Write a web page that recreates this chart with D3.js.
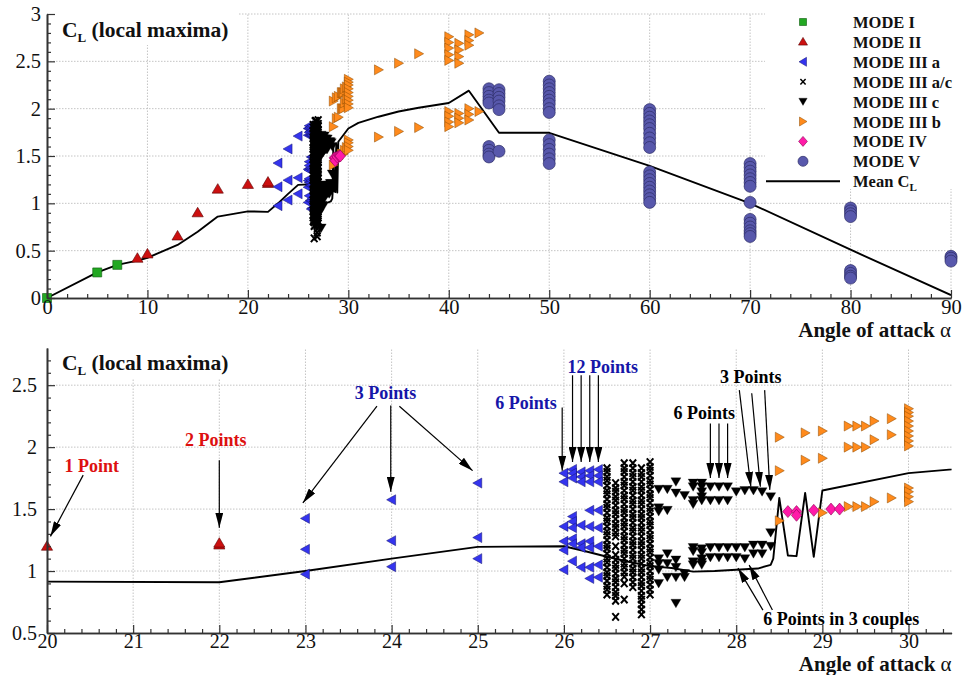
<!DOCTYPE html>
<html>
<head>
<meta charset="utf-8">
<script src="https://cdn.jsdelivr.net/npm/d3@7"></script>
<style>
  body { margin: 0; background: #fff; }
  svg { display: block; font-family: "Liberation Serif", "Times New Roman", serif; }
</style>
</head>
<body>
<svg id="chart" width="963" height="675"></svg>
<script>
// ---------- data: columns of [angle of attack, [local CL maxima]] ----------
const modeI = [[0, [0.0]], [5, [0.27]], [7, [0.35]]];

const modeII = [[9, [0.42]], [10, [0.465]], [13, [0.655]], [15, [0.90]], [17, [1.15]],
                [20, [1.20]], [22, [1.21, 1.225]]];

const modeIIIa = [
  [23,   [1.425, 1.175, 0.975]],
  [24,   [1.575, 1.245, 1.035]],
  [25,   [1.71, 1.27, 1.10]],
  [26,   [1.79, 1.72, 1.36, 1.24, 1.17, 1.01]],
  [26.1, [1.82, 1.79, 1.75, 1.44, 1.40, 1.35, 1.26, 1.22, 1.08]],
  [26.2, [1.80, 1.76, 1.72, 1.37, 1.22, 1.19, 1.03]],
  [26.3, [1.81, 1.77, 1.72, 1.49, 1.36, 1.24, 1.19, 1.03, 0.94]],
  [26.4, [1.82, 1.77, 1.72, 1.49, 1.35, 1.20, 1.05, 0.95]]
];

const modeIIIac = [
  [26.5, [1.83, 1.80, 1.76, 1.73, 1.69, 1.65, 1.62, 1.58, 1.54, 1.51, 1.47, 1.43, 1.40, 1.36, 1.32,
          1.29, 1.25, 1.21, 1.18, 1.14, 1.10, 1.07, 1.03, 0.99, 0.96, 0.92, 0.88, 0.85, 0.81]],
  [26.6, [1.71, 1.67, 1.64, 1.60, 1.57, 1.53, 1.49, 1.46, 1.42, 1.38, 1.35, 1.31, 1.28, 1.20, 1.13,
          1.09, 1.05, 1.02, 0.98, 0.94, 0.91, 0.87, 0.83, 0.80, 0.76, 0.63]],
  [26.7, [1.87, 1.83, 1.80, 1.76, 1.72, 1.69, 1.65, 1.61, 1.58, 1.54, 1.50, 1.47, 1.43, 1.39, 1.36,
          1.32, 1.28, 1.25, 1.21, 1.17, 1.14, 1.10, 1.06, 1.03, 0.99, 0.955, 0.90, 0.77]],
  [26.8, [1.87, 1.83, 1.79, 1.76, 1.72, 1.68, 1.65, 1.61, 1.57, 1.54, 1.50, 1.46, 1.43, 1.39, 1.35,
          1.32, 1.28, 1.24, 1.21, 1.17, 1.13, 1.10, 1.06, 1.02, 0.99, 0.95, 0.91, 0.87]],
  [26.9, [1.83, 1.79, 1.76, 1.72, 1.68, 1.65, 1.61, 1.57, 1.54, 1.50, 1.46, 1.43, 1.39, 1.35, 1.32,
          1.28, 1.24, 1.21, 1.17, 1.13, 1.10, 1.06, 1.02, 0.99, 0.95, 0.91, 0.88, 0.84, 0.80, 0.77,
          0.73, 0.69, 0.65]],
  [27.0, [1.88, 1.84, 1.81, 1.77, 1.73, 1.70, 1.66, 1.62, 1.59, 1.55, 1.51, 1.48, 1.44, 1.40, 1.37,
          1.33, 1.29, 1.26, 1.22, 1.18, 1.15, 1.11, 1.07, 1.04, 1.00, 0.96, 0.93, 0.89, 0.85, 0.81]]
];

const modeIIIc = [
  [27.1, [1.66, 1.51, 1.48, 1.10, 1.06, 1.01, 0.90]],
  [27.2, [1.66, 1.49, 1.14, 1.06, 0.95]],
  [27.3, [1.72, 1.63, 1.09, 1.03, 0.95, 0.74]],
  [27.4, [1.61, 0.98, 0.95]],
  [27.5, [1.71, 1.68, 1.57, 1.54, 1.19, 1.16, 1.075, 1.05]],
  [27.6, [1.71, 1.68, 1.64, 1.60, 1.57, 1.18, 1.15, 1.10, 1.07, 1.05]],
  [27.7, [1.68, 1.57, 1.19, 1.11]],
  [27.8, [1.68, 1.57, 1.19, 1.11]],
  [27.9, [1.68, 1.57, 1.19, 1.11]],
  [28.0, [1.64, 1.19, 1.11]],
  [28.1, [1.65, 1.19, 1.10]],
  [28.2, [1.65, 1.21, 1.14]],
  [28.3, [1.64, 1.21, 1.14]],
  [28.4, [1.60, 1.31, 1.20]]
];

const modeIIIb = [
  [28.5, [2.08, 1.81, 1.405]],
  [28.8, [2.115, 1.895]],
  [29.0, [2.13, 1.91, 1.47]],
  [29.3, [2.17, 2.00, 1.52]],
  [29.4, [2.17, 2.00, 1.52]],
  [29.5, [2.17, 2.00, 1.52]],
  [29.6, [2.21, 2.06, 1.56]],
  [29.8, [2.23, 2.10, 1.59]],
  [30.0, [2.31, 2.28, 2.25, 2.21, 2.17, 2.13, 2.09, 2.05, 2.01, 1.67, 1.64, 1.60, 1.56]],
  [33, [2.41, 1.70]],
  [35, [2.48, 1.76]],
  [37, [2.58, 1.80]],
  [40, [2.76, 2.70, 2.64, 2.57, 2.51, 1.97, 1.92, 1.86, 1.81]],
  [41, [2.69, 2.62, 2.55, 2.48, 1.95, 1.90, 1.85]],
  [42, [2.78, 2.72, 2.67, 2.00, 1.94, 1.88]],
  [43, [2.80, 1.97]]
];

const modeIV = [[28.6, [1.48]], [28.7, [1.48, 1.45]], [28.9, [1.49]], [29.1, [1.50]], [29.2, [1.50]]];

const modeV = [
  [44, [2.21, 2.17, 2.13, 2.09, 2.06, 1.60, 1.56, 1.52, 1.49]],
  [45, [2.20, 2.16, 2.12, 2.08, 2.03, 1.99, 1.55]],
  [50, [2.29, 2.25, 2.21, 2.17, 2.13, 2.09, 2.05, 2.00, 1.96, 1.67, 1.62, 1.57, 1.52, 1.47, 1.42]],
  [60, [1.99, 1.95, 1.91, 1.87, 1.83, 1.79, 1.74, 1.69, 1.64, 1.59,
        1.33, 1.29, 1.25, 1.21, 1.17, 1.13, 1.09, 1.05, 1.01]],
  [70, [1.42, 1.38, 1.34, 1.30, 1.26, 1.22, 1.18, 1.01, 0.83, 0.79, 0.75, 0.71, 0.68, 0.65]],
  [80, [0.95, 0.92, 0.89, 0.86, 0.29, 0.26, 0.23, 0.21]],
  [90, [0.44, 0.42, 0.39]]
];

const meanCL = [
  [0, 0], [5, 0.27], [7, 0.35], [9, 0.395], [10, 0.425], [13, 0.56], [15, 0.70], [17, 0.86],
  [20, 0.915], [22, 0.91], [23, 1.0], [24, 1.1], [25, 1.195], [26, 1.2], [26.25, 1.16],
  [26.5, 1.115], [26.75, 1.075], [27, 1.04], [27.25, 1.025], [27.5, 0.995], [27.75, 1.0],
  [28, 1.01], [28.25, 1.02], [28.4, 1.05], [28.43, 1.10], [28.5, 1.59], [28.6, 1.125],
  [28.7, 1.12], [28.8, 1.63], [28.9, 1.115], [29, 1.65], [30, 1.79], [31, 1.85], [33, 1.915],
  [35, 1.97], [37, 2.01], [40, 2.06], [42, 2.19], [45, 1.745], [50, 1.745], [60, 1.395],
  [70, 1.0], [80, 0.51], [90, 0.03]
];

// ---------- tick values ----------
const topXTicks = [0, 10, 20, 30, 40, 50, 60, 70, 80, 90];
const topYTicks = [0, 0.5, 1, 1.5, 2, 2.5, 3];
const bottomXTicks = [20, 21, 22, 23, 24, 25, 26, 27, 28, 29, 30];
const bottomYTicks = [0.5, 1, 1.5, 2, 2.5];

// ---------- annotations of the zoomed panel (data units) ----------
const RED = "#dd1010", BLUE = "#1616a8", BLACK = "#000";
const notes = [
  { text: "1 Point",  color: RED,  at: [20.52, 1.80], arrows: [[[20.42, 1.774], [20.04, 1.28]]] },
  { text: "2 Points", color: RED,  at: [21.96, 2.008], arrows: [[[22.0, 1.895], [22.0, 1.35]]] },
  { text: "3 Points", color: BLUE, at: [23.93, 2.387], arrows: [
      [[23.83, 2.33], [22.97, 1.55]], [[23.99, 2.335], [23.99, 1.64]], [[24.09, 2.33], [24.94, 1.81]]] },
  { text: "6 Points", color: BLUE, at: [25.56, 2.31], arrows: [[[25.98, 2.32], [25.98, 1.81]]] },
  { text: "12 Points", color: BLUE, at: [26.45, 2.60], arrows: [
      [[26.1, 2.58], [26.1, 1.88]], [[26.2, 2.58], [26.2, 1.88]],
      [[26.3, 2.58], [26.3, 1.88]], [[26.4, 2.58], [26.4, 1.88]]] },
  { text: "6 Points", color: BLACK, at: [27.63, 2.226], arrows: [
      [[27.7, 2.19], [27.7, 1.75]], [[27.8, 2.19], [27.8, 1.75]], [[27.9, 2.19], [27.9, 1.75]]] },
  { text: "3 Points", color: BLACK, at: [28.17, 2.516], arrows: [
      [[28.036, 2.46], [28.17, 1.68]], [[28.18, 2.435], [28.28, 1.68]], [[28.33, 2.46], [28.39, 1.655]]] },
  { text: "6 Points in 3 couples", color: BLACK, at: [29.22, 0.565], arrows: [
      [[28.31, 0.685], [28.02, 1.024]], [[28.42, 0.685], [28.15, 1.048]]] }
];

// ---------- marker styles ----------
const circlePath = d3.symbol(d3.symbolCircle, Math.PI * 36)();
const modes = [
  { name: "MODE I",       data: modeI,     d: "M-4.5,-4.5h9v9h-9z",           fill: "#22a822", stroke: "#0e5a0e", sw: 0.6 },
  { name: "MODE II",      data: modeII,    d: "M0,-5.5L5.6,4L-5.6,4Z",        fill: "#cc1010", stroke: "#5a0000", sw: 0.6 },
  { name: "MODE III a",   data: modeIIIa,  d: "M-5,0L4,-5L4,5Z",              fill: "#3434ee", stroke: "#14146e", sw: 0.5 },
  { name: "MODE III a/c", data: modeIIIac, d: "M-3.3,-3.7L3.3,3.7M3.3,-3.7L-3.3,3.7", fill: "none", stroke: "#000", sw: 2.0 },
  { name: "MODE III c",   data: modeIIIc,  d: "M0,4.5L-5,-4L5,-4Z",           fill: "#000",    stroke: "#000",    sw: 0.3 },
  { name: "MODE III b",   data: modeIIIb,  d: "M5,0L-4,-5L-4,5Z",             fill: "#ff8a1c", stroke: "#8a4a00", sw: 0.5 },
  { name: "MODE IV",      data: modeIV,    d: "M0,-6L5.2,0L0,6L-5.2,0Z",      fill: "#ff1aa8", stroke: "#8a0050", sw: 0.6 },
  { name: "MODE V",       data: modeV,     d: circlePath,                    fill: "#5858ac", stroke: "#2c2c66", sw: 0.7 }
];
const legendSym = {
  "MODE I": "M-3.5,-3.5h7v7h-7z", "MODE II": "M0,-4.5L4.5,3.2L-4.5,3.2Z",
  "MODE III a": "M-4,0L3.5,-4.5L3.5,4.5Z", "MODE III a/c": "M-2.6,-2.8L2.6,2.8M2.6,-2.8L-2.6,2.8",
  "MODE III c": "M0,3.8L-4.2,-3.4L4.2,-3.4Z", "MODE III b": "M4,0L-3.5,-4.5L-3.5,4.5Z",
  "MODE IV": "M0,-5L4.4,0L0,5L-4.4,0Z", "MODE V": d3.symbol(d3.symbolCircle, Math.PI * 25)()
};
const legendStroke = { "MODE III a/c": 1.5 };

const svg = d3.select("#chart");
const defs = svg.append("defs");
defs.append("marker").attr("id", "arrowhead")
  .attr("viewBox", "0 0 15 8").attr("refX", 15).attr("refY", 4)
  .attr("markerWidth", 15).attr("markerHeight", 8)
  .attr("markerUnits", "userSpaceOnUse").attr("orient", "auto")
  .append("path").attr("d", "M0,0L15,4L0,8Z").attr("fill", "#000");

const flatten = cols => cols.flatMap(([a, vals]) => vals.map(v => [a, v]));

function drawPanel(cfg) {
  const g = svg.append("g");
  const x = d3.scaleLinear().domain(cfg.xDomain).range([cfg.left, cfg.right]);
  const y = d3.scaleLinear().domain(cfg.yDomain).range([cfg.bottom, cfg.top]);
  const inX = a => a >= cfg.xDomain[0] - 1e-9 && a <= cfg.xDomain[1] + 1e-9;

  // dotted grid
  const grid = g.append("g").attr("stroke", "#c4c4c4").attr("stroke-width", 1)
    .attr("stroke-dasharray", "1.5,1.5");
  grid.selectAll(".gx").data(cfg.xTicks.filter(t => t > cfg.xDomain[0])).join("line")
    .attr("x1", d => x(d)).attr("x2", d => x(d)).attr("y1", cfg.bottom).attr("y2", cfg.top);
  grid.selectAll(".gy").data(cfg.yTicks.filter(t => t > cfg.yDomain[0])).join("line")
    .attr("y1", d => y(d)).attr("y2", d => y(d)).attr("x1", cfg.left).attr("x2", cfg.right);

  // title backdrop
  g.append("rect").attr("x", cfg.left + 1).attr("y", cfg.top - 1).attr("width", 190)
    .attr("height", 32).attr("fill", "#fff");

  // mean CL line
  const clipId = "clip" + cfg.id;
  defs.append("clipPath").attr("id", clipId).append("rect")
    .attr("x", cfg.left).attr("y", cfg.top - 10)
    .attr("width", cfg.right - cfg.left).attr("height", cfg.bottom - cfg.top + 12);
  g.append("path").datum(meanCL)
    .attr("clip-path", `url(#${clipId})`)
    .attr("fill", "none").attr("stroke", "#000").attr("stroke-width", 1.9)
    .attr("stroke-linejoin", "round")
    .attr("d", d3.line().x(d => x(d[0])).y(d => y(d[1])));

  // markers
  modes.forEach(m => {
    g.append("g").selectAll("path").data(flatten(m.data).filter(p => inX(p[0]))).join("path")
      .attr("d", m.d)
      .attr("transform", p => `translate(${x(p[0])},${y(p[1])})`)
      .attr("fill", m.fill).attr("stroke", m.stroke).attr("stroke-width", m.sw);
  });

  // axes: major + minor ticks pointing inward
  const axStyle = sel => {
    sel.select(".domain").attr("stroke", "#333").attr("stroke-width", 1.6);
    sel.selectAll(".tick line").attr("stroke", "#333").attr("stroke-width", 1.2);
    sel.selectAll("text").attr("font-family", '"Liberation Serif", "Times New Roman", serif')
      .attr("font-size", cfg.tickFont).attr("fill", "#111");
  };
  g.append("g").attr("transform", `translate(0,${cfg.bottom})`)
    .call(d3.axisBottom(x).tickValues(cfg.xMinor).tickSize(-4).tickSizeOuter(0).tickFormat(""))
    .call(axStyle);
  g.append("g").attr("transform", `translate(0,${cfg.bottom})`)
    .call(d3.axisBottom(x).tickValues(cfg.xTicks).tickSize(-8).tickSizeOuter(0)
      .tickPadding(1).tickFormat(d3.format("d")))
    .call(axStyle);
  g.append("g").attr("transform", `translate(${cfg.left},0)`)
    .call(d3.axisLeft(y).tickValues(cfg.yMinor).tickSize(-4).tickSizeOuter(0).tickFormat(""))
    .call(axStyle);
  g.append("g").attr("transform", `translate(${cfg.left},0)`)
    .call(d3.axisLeft(y).tickValues(cfg.yTicks).tickSize(-8).tickSizeOuter(0)
      .tickPadding(cfg.yPad).tickFormat(d => String(d)))
    .call(axStyle);

  // panel title
  const t = g.append("text").attr("x", cfg.left + 15).attr("y", cfg.titleY)
    .attr("font-size", 21.5).attr("font-weight", "bold").attr("fill", "#111");
  t.append("tspan").text("C");
  t.append("tspan").attr("font-size", 13).attr("dy", 5).text("L");
  t.append("tspan").attr("dy", -5).text(" (local maxima)");

  // axis title
  const at = g.append("text").attr("x", cfg.right).attr("y", cfg.axisTitleY)
    .attr("text-anchor", "end").attr("font-size", 21).attr("font-weight", "bold").attr("fill", "#111");
  at.append("tspan").text("Angle of attack ");
  at.append("tspan").attr("font-weight", "normal").text("α");

  return { g, x, y };
}

// ---------- full range panel ----------
const fullPanel = drawPanel({
  id: "full", xDomain: [0, 90], yDomain: [0, 3],
  left: 47, right: 951, top: 14, bottom: 298,
  xTicks: topXTicks, yTicks: topYTicks,
  xMinor: d3.range(2, 90, 2).filter(v => v % 10 !== 0),
  yMinor: d3.range(1, 30).filter(v => v % 5 !== 0).map(v => v / 10),
  tickFont: 20.5, yPad: 6, titleY: 37, axisTitleY: 337
});

// legend
const lg = fullPanel.g.append("g");
lg.append("rect").attr("x", 765).attr("y", 0).attr("width", 198).attr("height", 189).attr("fill", "#fff");
modes.forEach((m, i) => {
  const yy = 22 + i * 19.9;
  lg.append("path").attr("d", legendSym[m.name]).attr("transform", `translate(803,${yy})`)
    .attr("fill", m.fill).attr("stroke", m.stroke)
    .attr("stroke-width", legendStroke[m.name] || m.sw);
  lg.append("text").attr("x", 853).attr("y", yy + 6).attr("font-size", 16.5)
    .attr("font-weight", "bold").attr("fill", "#111").text(m.name);
});
{
  const yy = 22 + 8 * 19.9;
  lg.append("line").attr("x1", 766).attr("x2", 840).attr("y1", yy).attr("y2", yy)
    .attr("stroke", "#000").attr("stroke-width", 1.9);
  const t = lg.append("text").attr("x", 853).attr("y", yy + 6).attr("font-size", 16.5)
    .attr("font-weight", "bold").attr("fill", "#111");
  t.append("tspan").text("Mean C");
  t.append("tspan").attr("font-size", 11).attr("dy", 4).text("L");
}

// ---------- zoomed panel ----------
const zoomPanel = drawPanel({
  id: "zoom", xDomain: [20, 30.5], yDomain: [0.5, 2.8],
  left: 47, right: 951.6, top: 348, bottom: 633,
  xTicks: bottomXTicks, yTicks: bottomYTicks,
  xMinor: d3.range(101, 153).filter(v => v % 5 !== 0).map(v => v / 5),
  yMinor: d3.range(6, 28).filter(v => v % 5 !== 0).map(v => v / 10),
  tickFont: 20, yPad: 10, titleY: 370, axisTitleY: 671
});

// annotations with arrows
const an = zoomPanel.g.append("g");
notes.forEach(n => {
  n.arrows.forEach(([p0, p1]) => {
    an.append("line")
      .attr("x1", zoomPanel.x(p0[0])).attr("y1", zoomPanel.y(p0[1]))
      .attr("x2", zoomPanel.x(p1[0])).attr("y2", zoomPanel.y(p1[1]))
      .attr("stroke", "#000").attr("stroke-width", 1.2)
      .attr("marker-end", "url(#arrowhead)");
  });
  an.append("text").attr("x", zoomPanel.x(n.at[0])).attr("y", zoomPanel.y(n.at[1]))
    .attr("text-anchor", "middle").attr("font-size", 18).attr("font-weight", "bold")
    .attr("fill", n.color).text(n.text);
});
</script>
</body>
</html>
